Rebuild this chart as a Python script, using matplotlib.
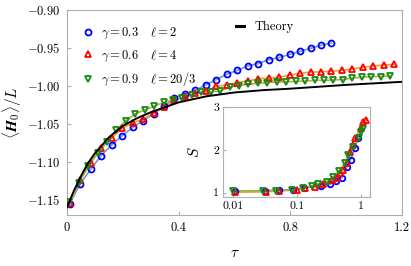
import numpy as np
import matplotlib
matplotlib.use("Agg")
import matplotlib.pyplot as plt
from matplotlib.lines import Line2D

plt.rcParams['mathtext.fontset'] = 'cm'
plt.rcParams['font.family'] = 'serif'
plt.rcParams['font.serif'] = ['cmr10', 'DejaVu Serif']
plt.rcParams['axes.formatter.use_mathtext'] = True

# main panel: <H0>/L against tau
tau_blue = [0.01 + 0.0375 * k for k in range(26)]
h_blue = [-1.155, -1.129, -1.110, -1.092, -1.078, -1.066, -1.055, -1.046, -1.037,
          -1.027, -1.016, -1.011, -1.006, -0.999, -0.992, -0.985, -0.980, -0.974,
          -0.971, -0.966, -0.963, -0.959, -0.955, -0.951, -0.947, -0.944]

tau_red = [0.01 + 0.0375 * k for k in range(32)]
h_red = [-1.154, -1.124, -1.102, -1.082, -1.069, -1.056, -1.049, -1.044, -1.036,
         -1.028, -1.019, -1.014, -1.010, -1.007, -1.001, -0.999, -0.996, -0.994,
         -0.991, -0.990, -0.989, -0.986, -0.984, -0.982, -0.982, -0.981, -0.980,
         -0.978, -0.976, -0.974, -0.973, -0.972]

tau_green = [0.008 + 0.0338 * k for k in range(35)]
h_green = [-1.153, -1.128, -1.106, -1.089, -1.074, -1.058, -1.046, -1.037, -1.032,
           -1.027, -1.022, -1.019, -1.016, -1.012, -1.009, -1.008, -1.007, -1.002,
           -1.000, -0.998, -0.997, -0.996, -0.995, -0.995, -0.9945, -0.994, -0.993,
           -0.993, -0.9925, -0.992, -0.990, -0.989, -0.988, -0.988, -0.987]

tau_theory = [0, 0.025, 0.05, 0.075, 0.1, 0.15, 0.2, 0.25, 0.3, 0.4, 0.5, 0.6,
              0.7, 0.8, 0.9, 1.0, 1.1, 1.2]
h_theory = [-1.160, -1.138, -1.119, -1.102, -1.089, -1.068, -1.053, -1.043, -1.035,
            -1.022, -1.014, -1.009, -1.006, -1.004, -1.0015, -0.999, -0.997, -0.995]

# inset: S against tau (log x)
tau_in_blue = [0.0106, 0.032, 0.052, 0.085, 0.13, 0.24, 0.33, 0.40, 0.50, 0.60, 0.69, 0.80, 0.90]
s_in_blue = [1.03, 1.05, 1.06, 1.07, 1.12, 1.16, 1.20, 1.27, 1.35, 1.61, 1.77, 2.04, 2.27]

tau_in_red = [0.0107, 0.033, 0.053, 0.10, 0.1325, 0.19, 0.256, 0.347, 0.415, 0.468,
              0.526, 0.595, 0.67, 0.738, 0.80, 0.986, 1.08, 1.22]
s_in_red = [1.01, 1.02, 1.04, 1.07, 1.12, 1.14, 1.20, 1.30, 1.35, 1.45, 1.53, 1.69,
            1.96, 2.12, 2.27, 2.51, 2.66, 2.70]

tau_in_green = [0.0098, 0.029, 0.0466, 0.083, 0.122, 0.169, 0.214, 0.29, 0.367, 0.456,
                0.56, 0.63, 0.755, 0.94, 0.986, 1.08]
s_in_green = [1.04, 1.04, 1.05, 1.06, 1.10, 1.16, 1.20, 1.26, 1.37, 1.51, 1.69, 1.88,
              2.08, 2.27, 2.43, 2.50]

labels = [r'$\gamma = 0.3 \quad\, \ell = 2$', r'$\gamma = 0.6 \quad\, \ell = 4$',
          r'$\gamma = 0.9 \quad\, \ell = 20/3$']

xticks = [0, 0.4, 0.8, 1.2]
xticklabels = ['0', '0.4', '0.8', '1.2']
yticks = [-0.90, -0.95, -1.00, -1.05, -1.10, -1.15]
yticklabels = [r'$-0.90$', r'$-0.95$', r'$-1.00$', r'$-1.05$', r'$-1.10$', r'$-1.15$']
in_xticks = [0.01, 0.1, 1]
in_xticklabels = ['0.01', '0.1', '1']
in_yticks = [1, 2, 3]
in_yticklabels = ['1', '2', '3']

series = [
    (tau_blue, h_blue, tau_in_blue, s_in_blue, 'o', '#0000ff', '#6f9bd1', 4.3),
    (tau_red, h_red, tau_in_red, s_in_red, '^', '#ff0000', '#f0a030', 4.8),
    (tau_green, h_green, tau_in_green, s_in_green, 'v', '#178a17', '#a8b43a', 4.8),
]

spine_col = '#b0b0b0'

fig = plt.figure(figsize=(4.11, 2.66), dpi=100)
ax = fig.add_axes([0.163, 0.192, 0.815, 0.772])

handles = []
for (tx, hy, _, _, mk, mc, lc, ms), lab in zip(series, labels):
    ax.plot(tx, hy, color=lc, lw=1.2, zorder=2)
    ax.plot(tx, hy, ls='none', marker=mk, ms=ms, mfc='none', mec=mc, mew=1.3, zorder=3)
    handles.append(Line2D([], [], ls='none', marker=mk, ms=ms, mfc='none', mec=mc,
                          mew=1.3, label=lab))
ax.plot(tau_theory, h_theory, color='black', lw=1.4, zorder=4)

ax.set_xlim(0, 1.2)
ax.set_ylim(-1.17, -0.90)
ax.set_xticks(xticks, labels=xticklabels)
ax.set_yticks(yticks, labels=yticklabels)
ax.tick_params(direction='in', length=3, color=spine_col, labelsize=9, pad=5)
for s in ax.spines.values():
    s.set_color(spine_col)
    s.set_linewidth(0.8)
ax.set_xlabel(r'$\tau$', fontsize=11, labelpad=9)
ax.set_ylabel(r'$\langle \boldsymbol{H}_0 \rangle / L$', fontsize=11, labelpad=2)

leg1 = ax.legend(handles=handles, loc='upper left', frameon=False, fontsize=9,
                 handlelength=0.8, handletextpad=0.6, labelspacing=0.6,
                 borderaxespad=0.9, bbox_to_anchor=(0.0, 1.0))
ax.add_artist(leg1)
th = Line2D([], [], color='black', lw=2.2, label='Theory')
ax.legend(handles=[th], loc='upper left', bbox_to_anchor=(0.47, 1.0), frameon=False,
          fontsize=9, handlelength=0.7, handletextpad=0.8, borderaxespad=0.5)

# inset
axi = fig.add_axes([0.543, 0.258, 0.357, 0.339])
for (_, _, ti, si, mk, mc, lc, ms) in series:
    axi.plot(ti, si, color=lc, lw=1.2, zorder=2)
    axi.plot(ti, si, ls='none', marker=mk, ms=ms - 0.3, mfc='none', mec=mc, mew=1.3, zorder=3)
axi.set_xscale('log')
axi.set_xlim(0.007, 1.38)
axi.set_ylim(0.89, 3.0)
axi.set_xticks(in_xticks, labels=in_xticklabels)
axi.set_yticks(in_yticks, labels=in_yticklabels)
axi.minorticks_off()
axi.tick_params(direction='in', length=2.5, color=spine_col, labelsize=8.5, pad=3)
for s in axi.spines.values():
    s.set_color(spine_col)
    s.set_linewidth(0.8)
axi.set_ylabel(r'$S$', fontsize=11, labelpad=8)

fig.savefig('out.png', dpi=100)
